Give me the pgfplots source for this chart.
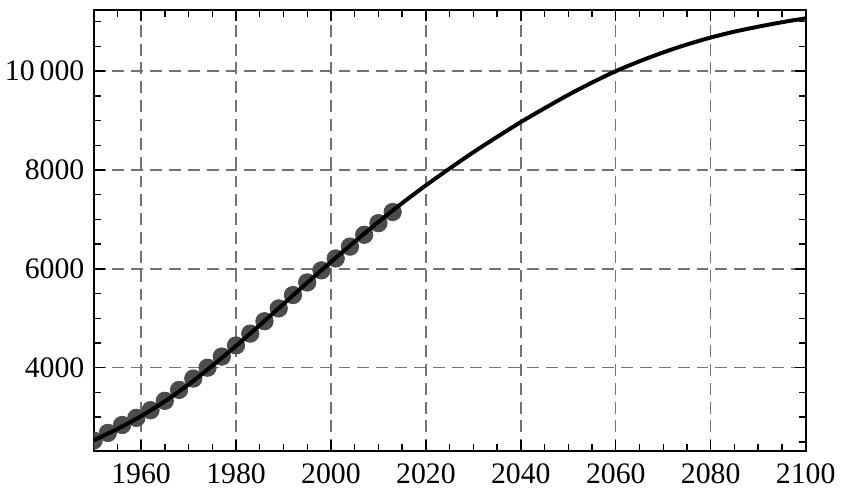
\documentclass[border=0pt]{standalone}
\usepackage{pgfplots}
\pgfplotsset{compat=1.18}
\usepackage{fontspec}
\setmainfont{Liberation Serif}
\begin{document}
\begin{tikzpicture}
\begin{axis}[
  name=ax,
  scale only axis,
  width=359pt, height=222.5pt,
  xmin=1950, xmax=2100,
  ymin=2310, ymax=11240,
  scaled ticks=false,
  xtick={1960,1980,2000,2020,2040,2060,2080,2100},
  xticklabels={1960,1980,2000,2020,2040,2060,2080,2100},
  ytick={4000,6000,8000,10000},
  yticklabels={4000,6000,8000,10\,000},
  minor xtick={1955,1965,1970,1975,1985,1990,1995,2005,2010,2015,2025,2030,2035,2045,2050,2055,2065,2070,2075,2085,2090,2095},
  minor ytick={2500,3000,3500,4500,5000,5500,6500,7000,7500,8500,9000,9500,10500,11000},
  tick align=inside,
  major tick length=5.5pt,
  minor tick length=3.5pt,
  every tick/.style={black, line width=0.7pt},
  axis line style={black, line width=0.9pt},
  grid=major,
  major grid style={black!55, line width=0.7pt, dash pattern=on 6pt off 3.5pt},
  /pgf/number format/assume math mode=true,
  ticklabel style={font=\fontsize{15}{18}\selectfont},
  yticklabel style={inner sep=2.5pt, xshift=-2pt},
  xticklabel style={yshift=-3pt},
  clip=true,
  clip marker paths=true,
]
\addplot[only marks, mark=*, mark size=4.4pt, mark options={fill=black!70, draw=black!70}]
  coordinates {
  (1950,2526) (1953,2680) (1956,2840) (1959,2985) (1962,3140) (1965,3330)
  (1968,3550) (1971,3780) (1974,4000) (1977,4225) (1980,4450) (1983,4690)
  (1986,4940) (1989,5200) (1992,5470) (1995,5725) (1998,5970) (2001,6210)
  (2004,6450) (2007,6690) (2010,6925) (2013,7150)
  };
\addplot[black, line width=2pt, smooth, no marks]
  coordinates {
  (1950,2530) (1955,2760) (1960,3020) (1965,3320) (1970,3660) (1975,4040)
  (1980,4440) (1985,4860) (1990,5290) (1995,5720) (2000,6140) (2005,6550)
  (2010,6950) (2015,7330) (2020,7690) (2025,8030) (2030,8360) (2035,8670)
  (2040,8970) (2045,9250) (2050,9520) (2055,9770) (2060,10000) (2065,10200)
  (2070,10380) (2075,10540) (2080,10680) (2085,10800) (2090,10900)
  (2095,10990) (2100,11070)
  };
\end{axis}
\path ([shift={(-46pt,-19pt)}]ax.south west) rectangle ([shift={(16pt,5pt)}]ax.north east);
\end{tikzpicture}
\end{document}
